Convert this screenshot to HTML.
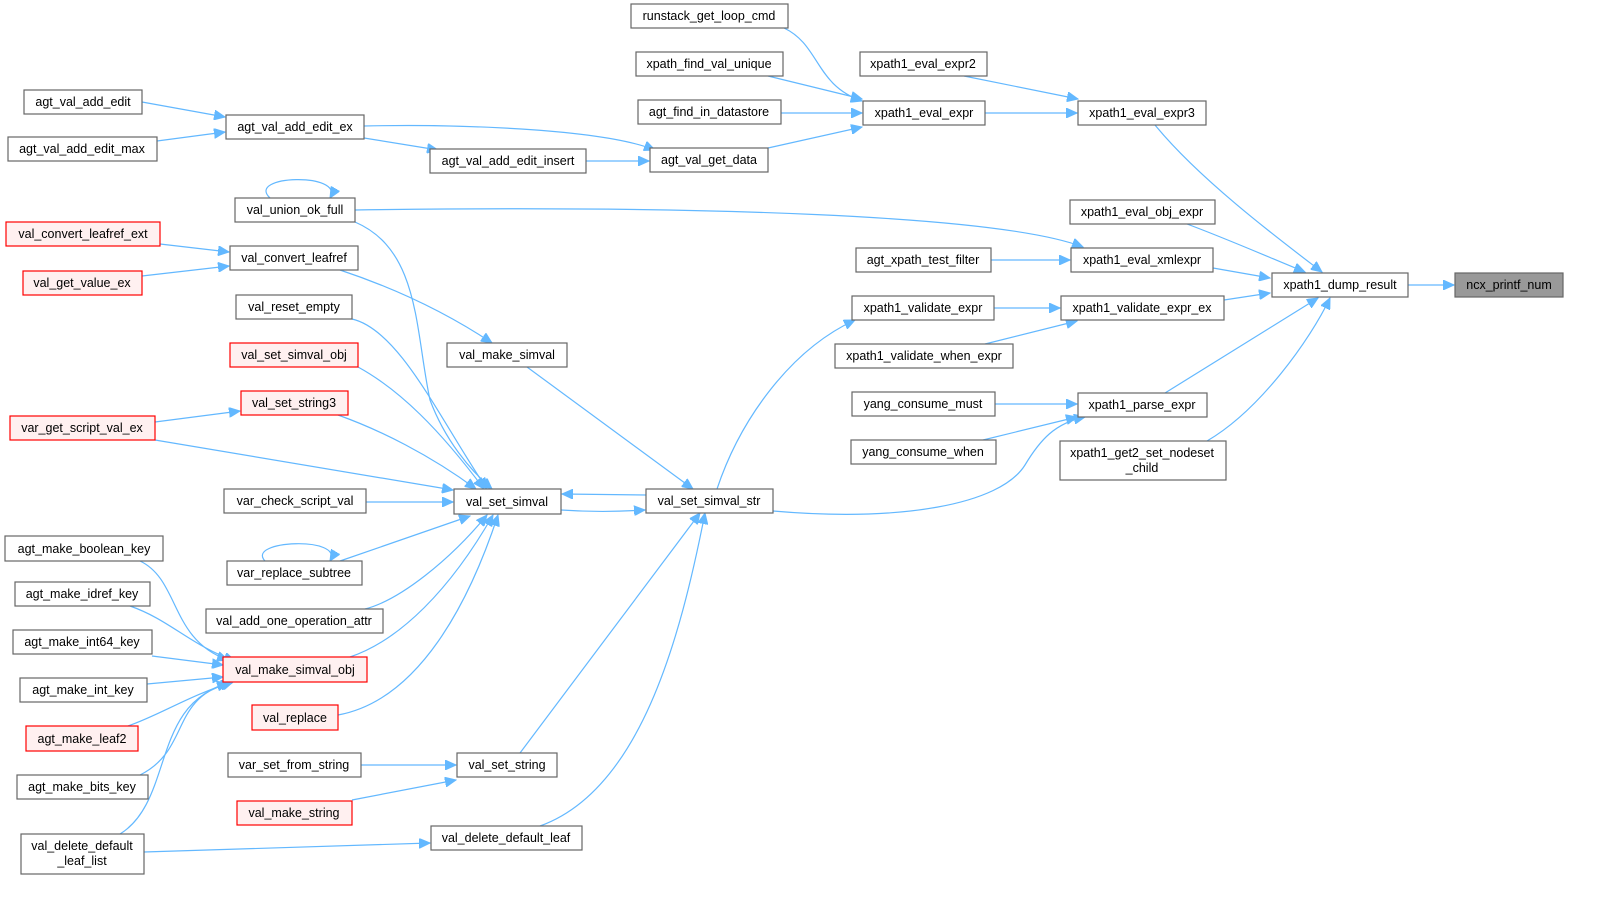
<!DOCTYPE html>
<html><head><meta charset="utf-8"><style>
html,body{margin:0;padding:0;background:#fff;width:1608px;height:901px;overflow:hidden}
svg{display:block}
text{font-family:"Liberation Sans",Arial,sans-serif;font-size:12.5px;fill:#000}
.n{fill:#fff;stroke:#666;stroke-width:1.2}
.r{fill:#fff0f0;stroke:#f00;stroke-width:1.2}
.g{fill:#999;stroke:#666;stroke-width:1.2}
.e{fill:none;stroke:#63b8ff;stroke-width:1.2;marker-end:url(#a)}
</style></head><body>
<svg width="1608" height="901" viewBox="0 0 1608 901">
<defs><marker id="a" markerUnits="userSpaceOnUse" markerWidth="12" markerHeight="10" refX="11" refY="5" orient="auto"><path d="M0,0 L11,5 L0,10 z" fill="#63b8ff" stroke="#63b8ff"/></marker></defs>
<g>
<path class="e" d="M1408,285 L1454,285"/>
<path class="e" d="M1155,125 C1200,180 1280,240 1322,272"/>
<path class="e" d="M1187,224 C1230,240 1280,262 1305,272"/>
<path class="e" d="M1213,268 L1270,278"/>
<path class="e" d="M1224,300 L1270,293"/>
<path class="e" d="M1165,393 L1318,298"/>
<path class="e" d="M1207,441 C1260,410 1310,340 1330,298"/>
<path class="e" d="M784,28 C820,45 815,85 862,101"/>
<path class="e" d="M768,76 L862,99"/>
<path class="e" d="M781,113 L862,113"/>
<path class="e" d="M768,148 L862,127"/>
<path class="e" d="M964,76 L1078,99"/>
<path class="e" d="M985,113 L1077,113"/>
<path class="e" d="M991,260 L1070,260"/>
<path class="e" d="M355,210 C700,205 1000,215 1083,247"/>
<path class="e" d="M994,308 L1060,308"/>
<path class="e" d="M985,344 L1077,321"/>
<path class="e" d="M995,404 L1077,404"/>
<path class="e" d="M983,440 L1077,417"/>
<path class="e" d="M773,511 C900,522 1000,505 1025,465 C1040,440 1055,423 1085,417"/>
<path class="e" d="M717,489 C740,420 790,350 855,320"/>
<path class="e" d="M646,495 L562,494"/>
<path class="e" d="M561,510 C590,512 615,512 645,510"/>
<path class="e" d="M527,367 L693,489"/>
<path class="e" d="M520,753 L700,513"/>
<path class="e" d="M540,826 C640,790 680,640 705,513"/>
<path class="e" d="M142,102 L225,117"/>
<path class="e" d="M157,141 L225,132"/>
<path class="e" d="M364,126 C450,124 600,128 655,150"/>
<path class="e" d="M364,138 L438,150"/>
<path class="e" d="M586,161 L649,161"/>
<path class="e" d="M270,198 C245,175 345,172 330,198"/>
<path class="e" d="M160,244 L229,252"/>
<path class="e" d="M142,276 L229,266"/>
<path class="e" d="M340,270 C400,290 450,315 492,343"/>
<path class="e" d="M355,222 C420,250 415,330 430,400 C445,440 470,470 492,489"/>
<path class="e" d="M352,319 C400,330 440,420 487,489"/>
<path class="e" d="M358,367 C400,390 440,430 484,489"/>
<path class="e" d="M338,415 C380,430 430,455 476,489"/>
<path class="e" d="M155,422 L240,411"/>
<path class="e" d="M155,440 L453,490"/>
<path class="e" d="M366,502 L453,502"/>
<path class="e" d="M265,561 C245,540 345,536 330,561"/>
<path class="e" d="M340,561 L470,516"/>
<path class="e" d="M365,609 C400,600 450,560 487,515"/>
<path class="e" d="M350,657 C400,640 450,590 493,515"/>
<path class="e" d="M338,715 C420,700 470,600 498,515"/>
<path class="e" d="M140,561 C180,580 170,640 228,660"/>
<path class="e" d="M130,606 C170,620 190,645 235,661"/>
<path class="e" d="M152,656 L223,665"/>
<path class="e" d="M147,684 L223,677"/>
<path class="e" d="M128,726 C160,715 190,695 233,682"/>
<path class="e" d="M140,775 C190,750 170,700 228,683"/>
<path class="e" d="M120,834 C175,800 150,700 232,683"/>
<path class="e" d="M361,765 L456,765"/>
<path class="e" d="M352,800 L456,780"/>
<path class="e" d="M144,852 L430,843"/>
</g>
<g>
<rect class="g" x="1455" y="273" width="108" height="24"/><text x="1509" y="289" text-anchor="middle">ncx_printf_num</text>
<rect class="n" x="1272" y="273" width="136" height="24"/><text x="1340" y="289" text-anchor="middle">xpath1_dump_result</text>
<rect class="n" x="1078" y="101" width="128" height="24"/><text x="1142" y="117" text-anchor="middle">xpath1_eval_expr3</text>
<rect class="n" x="1070" y="200" width="145" height="24"/><text x="1142" y="216" text-anchor="middle">xpath1_eval_obj_expr</text>
<rect class="n" x="1071" y="248" width="142" height="24"/><text x="1142" y="264" text-anchor="middle">xpath1_eval_xmlexpr</text>
<rect class="n" x="1061" y="296" width="163" height="24"/><text x="1142" y="312" text-anchor="middle">xpath1_validate_expr_ex</text>
<rect class="n" x="1078" y="393" width="129" height="24"/><text x="1142" y="409" text-anchor="middle">xpath1_parse_expr</text>
<rect class="n" x="1060" y="441" width="166" height="39"/><text x="1142" y="457" text-anchor="middle">xpath1_get2_set_nodeset</text><text x="1142" y="472" text-anchor="middle">_child</text>
<rect class="n" x="631" y="4" width="157" height="24"/><text x="709" y="20" text-anchor="middle">runstack_get_loop_cmd</text>
<rect class="n" x="860" y="52" width="127" height="24"/><text x="923" y="68" text-anchor="middle">xpath1_eval_expr2</text>
<rect class="n" x="636" y="52" width="147" height="24"/><text x="709" y="68" text-anchor="middle">xpath_find_val_unique</text>
<rect class="n" x="863" y="101" width="122" height="24"/><text x="924" y="117" text-anchor="middle">xpath1_eval_expr</text>
<rect class="n" x="638" y="100" width="143" height="24"/><text x="709" y="116" text-anchor="middle">agt_find_in_datastore</text>
<rect class="n" x="650" y="148" width="118" height="24"/><text x="709" y="164" text-anchor="middle">agt_val_get_data</text>
<rect class="n" x="856" y="248" width="135" height="24"/><text x="923" y="264" text-anchor="middle">agt_xpath_test_filter</text>
<rect class="n" x="852" y="296" width="142" height="24"/><text x="923" y="312" text-anchor="middle">xpath1_validate_expr</text>
<rect class="n" x="835" y="344" width="178" height="24"/><text x="924" y="360" text-anchor="middle">xpath1_validate_when_expr</text>
<rect class="n" x="852" y="392" width="143" height="24"/><text x="923" y="408" text-anchor="middle">yang_consume_must</text>
<rect class="n" x="851" y="440" width="145" height="24"/><text x="923" y="456" text-anchor="middle">yang_consume_when</text>
<rect class="n" x="646" y="489" width="127" height="24"/><text x="709" y="505" text-anchor="middle">val_set_simval_str</text>
<rect class="n" x="24" y="90" width="118" height="24"/><text x="83" y="106" text-anchor="middle">agt_val_add_edit</text>
<rect class="n" x="8" y="137" width="149" height="24"/><text x="82" y="153" text-anchor="middle">agt_val_add_edit_max</text>
<rect class="n" x="226" y="115" width="138" height="24"/><text x="295" y="131" text-anchor="middle">agt_val_add_edit_ex</text>
<rect class="n" x="430" y="149" width="156" height="24"/><text x="508" y="165" text-anchor="middle">agt_val_add_edit_insert</text>
<rect class="n" x="235" y="198" width="120" height="24"/><text x="295" y="214" text-anchor="middle">val_union_ok_full</text>
<rect class="r" x="6" y="222" width="154" height="24"/><text x="83" y="238" text-anchor="middle">val_convert_leafref_ext</text>
<rect class="n" x="230" y="246" width="128" height="24"/><text x="294" y="262" text-anchor="middle">val_convert_leafref</text>
<rect class="r" x="23" y="271" width="119" height="24"/><text x="82" y="287" text-anchor="middle">val_get_value_ex</text>
<rect class="n" x="236" y="295" width="116" height="24"/><text x="294" y="311" text-anchor="middle">val_reset_empty</text>
<rect class="r" x="230" y="343" width="128" height="24"/><text x="294" y="359" text-anchor="middle">val_set_simval_obj</text>
<rect class="r" x="241" y="391" width="107" height="24"/><text x="294" y="407" text-anchor="middle">val_set_string3</text>
<rect class="r" x="10" y="416" width="145" height="24"/><text x="82" y="432" text-anchor="middle">var_get_script_val_ex</text>
<rect class="n" x="447" y="343" width="120" height="24"/><text x="507" y="359" text-anchor="middle">val_make_simval</text>
<rect class="n" x="224" y="489" width="142" height="24"/><text x="295" y="505" text-anchor="middle">var_check_script_val</text>
<rect class="n" x="454" y="489" width="107" height="25"/><text x="507" y="506" text-anchor="middle">val_set_simval</text>
<rect class="n" x="5" y="536" width="158" height="25"/><text x="84" y="553" text-anchor="middle">agt_make_boolean_key</text>
<rect class="n" x="227" y="561" width="135" height="24"/><text x="294" y="577" text-anchor="middle">var_replace_subtree</text>
<rect class="n" x="15" y="582" width="135" height="24"/><text x="82" y="598" text-anchor="middle">agt_make_idref_key</text>
<rect class="n" x="206" y="609" width="177" height="24"/><text x="294" y="625" text-anchor="middle">val_add_one_operation_attr</text>
<rect class="n" x="13" y="630" width="139" height="24"/><text x="82" y="646" text-anchor="middle">agt_make_int64_key</text>
<rect class="r" x="223" y="657" width="144" height="25"/><text x="295" y="674" text-anchor="middle">val_make_simval_obj</text>
<rect class="n" x="20" y="678" width="127" height="24"/><text x="83" y="694" text-anchor="middle">agt_make_int_key</text>
<rect class="r" x="26" y="726" width="112" height="25"/><text x="82" y="743" text-anchor="middle">agt_make_leaf2</text>
<rect class="r" x="252" y="705" width="86" height="25"/><text x="295" y="722" text-anchor="middle">val_replace</text>
<rect class="n" x="228" y="753" width="133" height="24"/><text x="294" y="769" text-anchor="middle">var_set_from_string</text>
<rect class="n" x="457" y="753" width="100" height="24"/><text x="507" y="769" text-anchor="middle">val_set_string</text>
<rect class="n" x="17" y="775" width="131" height="24"/><text x="82" y="791" text-anchor="middle">agt_make_bits_key</text>
<rect class="r" x="237" y="801" width="115" height="24"/><text x="294" y="817" text-anchor="middle">val_make_string</text>
<rect class="n" x="431" y="826" width="151" height="24"/><text x="506" y="842" text-anchor="middle">val_delete_default_leaf</text>
<rect class="n" x="21" y="834" width="123" height="40"/><text x="82" y="850" text-anchor="middle">val_delete_default</text><text x="82" y="865" text-anchor="middle">_leaf_list</text>
</g>
</svg>
</body></html>
